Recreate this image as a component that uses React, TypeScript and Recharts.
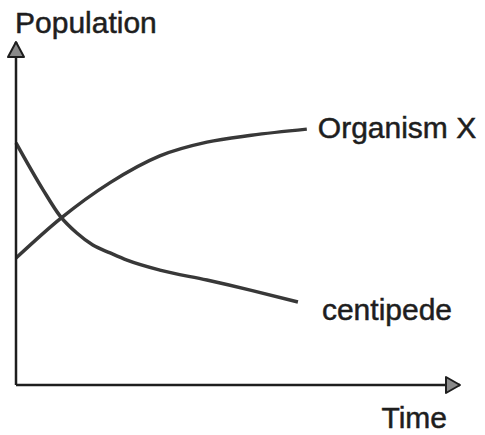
import React from 'react';
import {
  LineChart,
  Line,
  XAxis,
  YAxis,
  ReferenceDot,
  LabelList,
} from 'recharts';

// time points and population readings
const organismTime = [0, 10, 21.2, 32.4, 43, 53, 65.5];
const organismPop = [37, 48.5, 59, 66.8, 70.8, 72.8, 74.6];

const centipedeTime = [0, 6.1, 9.9, 13.7, 17.3, 21.2, 25, 32.4, 43, 53, 63.5];
const centipedePop = [70.6, 56.9, 49.3, 44.3, 40.8, 38.5, 36.4, 33.5, 30.6, 27.6, 24.2];

const seriesNames = ['Organism X', 'centipede'];
const axisNames = ['Population', 'Time'];

const build = (ts: number[], ps: number[], name: string) =>
  ts.map((t, i) => ({ t, p: ps[i], tag: i === ts.length - 1 ? name : undefined }));

const organismData = build(organismTime, organismPop, seriesNames[0]);
const centipedeData = build(centipedeTime, centipedePop, seriesNames[1]);

const FONT = '"Liberation Sans", Arial, sans-serif';
const INK = '#1e1e1e';
const LINE = '#383838';

// scanned-looking text: thin stroke thickens the glyphs a bit
const textStyle = {
  fontSize: 30,
  fontFamily: FONT,
  fill: INK,
  stroke: INK,
  strokeWidth: 0.5,
};

const endLabel = (dx: number, dy: number) => (props: any) => {
  const { x, y, value } = props;
  if (value === undefined || value === null) return null;
  return (
    <text x={x + dx} y={y + dy} {...textStyle}>
      {value}
    </text>
  );
};

const ArrowUp = (props: any) => {
  const { cx, cy } = props;
  return (
    <polygon
      points={`${cx},${cy} ${cx - 8},${cy + 15} ${cx + 8},${cy + 15}`}
      fill="#8a8a8a"
      stroke={INK}
      strokeWidth={2}
      strokeLinejoin="round"
    />
  );
};

const ArrowRight = (props: any) => {
  const { cx, cy } = props;
  return (
    <polygon
      points={`${cx},${cy} ${cx - 14},${cy - 8} ${cx - 14},${cy + 8}`}
      fill="#8a8a8a"
      stroke={INK}
      strokeWidth={2}
      strokeLinejoin="round"
    />
  );
};

export default function App() {
  return (
    <div style={{ position: 'absolute', left: 0, top: 0, background: '#fff' }}>
      <LineChart width={485} height={435} margin={{ top: 42, right: 25, left: 0, bottom: 0 }}>
        <XAxis
          type="number"
          dataKey="t"
          domain={[0, 100]}
          height={50}
          tick={false}
          tickLine={false}
          axisLine={{ stroke: INK, strokeWidth: 2.5 }}
          label={{
            content: (p: any) => {
              const vb = p.viewBox;
              return (
                <text x={vb.x + vb.width - 13} y={vb.y + 43} textAnchor="end" {...textStyle}>
                  {axisNames[1]}
                </text>
              );
            },
          }}
        />
        <YAxis
          type="number"
          dataKey="p"
          domain={[0, 100]}
          width={16}
          tick={false}
          tickLine={false}
          axisLine={{ stroke: INK, strokeWidth: 2.5 }}
          label={{
            content: (p: any) => {
              const vb = p.viewBox;
              return (
                <text x={vb.x + 15} y={vb.y - 9} {...textStyle}>
                  {axisNames[0]}
                </text>
              );
            },
          }}
        />
        <ReferenceDot x={0} y={100} r={0} ifOverflow="visible" shape={ArrowUp} />
        <ReferenceDot x={100} y={0} r={0} ifOverflow="visible" shape={ArrowRight} />
        <Line
          data={organismData}
          dataKey="p"
          type="monotone"
          stroke={LINE}
          strokeWidth={3.5}
          dot={false}
          isAnimationActive={false}
        >
          <LabelList dataKey="tag" content={endLabel(11, 9)} />
        </Line>
        <Line
          data={centipedeData}
          dataKey="p"
          type="monotone"
          stroke={LINE}
          strokeWidth={3.5}
          dot={false}
          isAnimationActive={false}
        >
          <LabelList dataKey="tag" content={endLabel(24, 18)} />
        </Line>
      </LineChart>
    </div>
  );
}
